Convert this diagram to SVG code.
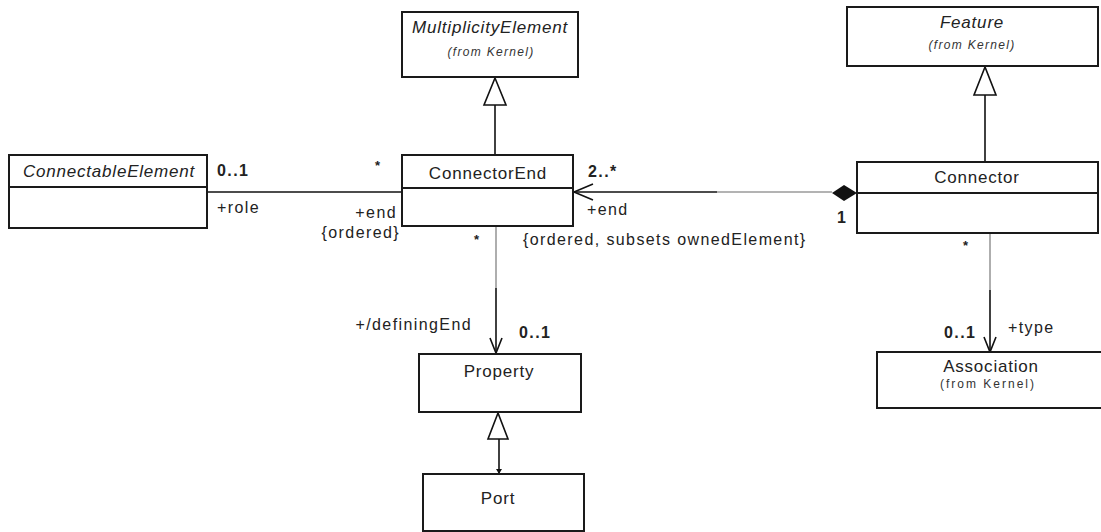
<svg xmlns="http://www.w3.org/2000/svg" width="1101" height="532" viewBox="0 0 1101 532">
  <style>
    .box { fill: #ffffff; stroke: #1a1a1a; stroke-width: 2; }
    .div { stroke: #1a1a1a; stroke-width: 2; }
    .name { font-family: "Liberation Sans", Arial, sans-serif; font-size: 17px; letter-spacing: 0.8px; fill: #222222; text-anchor: middle; }
    .abs { font-style: italic; }
    .from { font-family: "Liberation Sans", Arial, sans-serif; font-size: 12px; letter-spacing: 1.3px; fill: #333333; text-anchor: middle; }
    .lbl { font-family: "Liberation Sans", Arial, sans-serif; font-size: 16px; letter-spacing: 1.4px; fill: #222222; }
    .star { font-family: "Liberation Sans", Arial, sans-serif; font-size: 13px; font-weight: bold; fill: #222222; }
    .mult { font-family: "Liberation Sans", Arial, sans-serif; font-size: 16px; letter-spacing: 1.4px; font-weight: bold; fill: #222222; }
    .line { fill: none; stroke: #111111; stroke-width: 1.6; }
    .grey { fill: none; stroke: #9a9a9a; stroke-width: 1.6; }
    .hollow { fill: #ffffff; stroke: #111111; stroke-width: 1.6; }
    .open { fill: none; stroke: #111111; stroke-width: 1.6; }
  </style>

  <!-- connectors -->
  <g id="connectors">
    <!-- ConnectorEnd generalizes MultiplicityElement -->
    <line class="line" x1="495" y1="105" x2="495" y2="155"/>
    <polygon class="hollow" points="495,78 484,105 506,105"/>

    <!-- Connector generalizes Feature -->
    <line class="line" x1="985" y1="95" x2="985" y2="162"/>
    <polygon class="hollow" points="985,67 974,95 996,95"/>

    <!-- ConnectableElement role / ConnectorEnd end -->
    <line class="line" x1="207" y1="192" x2="402" y2="192"/>

    <!-- Connector owns ConnectorEnd (composition) -->
    <line class="line" x1="574" y1="192" x2="717" y2="192"/>
    <line class="grey" x1="717" y1="192" x2="832" y2="192"/>
    <polyline class="open" points="593,184 574,192 593,200"/>
    <polygon fill="#111111" points="832,193 844,185 857,193 844,201"/>

    <!-- ConnectorEnd definingEnd -> Property -->
    <line class="grey" x1="496" y1="227" x2="496" y2="288"/>
    <line class="line" x1="496" y1="288" x2="496" y2="353"/>
    <polyline class="open" points="490,338 496,353 502,338"/>

    <!-- Connector type -> Association -->
    <line class="grey" x1="990" y1="234" x2="990" y2="290"/>
    <line class="line" x1="990" y1="290" x2="990" y2="352"/>
    <polyline class="open" points="984,337 990,352 996,337"/>

    <!-- Port generalizes Property -->
    <line class="line" x1="499" y1="439" x2="499" y2="473"/>
    <polygon class="hollow" points="498,413 488,439 508,439"/>
    <polygon fill="#111111" points="496,469 502,469 499,474"/>

    <!-- association end labels -->
    <text class="mult" x="217" y="176">0..1</text>
    <text class="star" x="375" y="170">*</text>
    <text class="lbl" x="217" y="213">+role</text>
    <text class="lbl" x="397" y="218" text-anchor="end">+end</text>
    <text class="lbl" x="400" y="238" text-anchor="end">{ordered}</text>

    <text class="mult" x="588" y="177">2..*</text>
    <text class="lbl" x="587" y="215">+end</text>
    <text class="mult" x="837" y="223">1</text>
    <text class="lbl" x="523" y="245">{ordered, subsets ownedElement}</text>

    <text class="star" x="474" y="244">*</text>
    <text class="lbl" x="472" y="330" text-anchor="end">+/definingEnd</text>
    <text class="mult" x="519" y="338">0..1</text>

    <text class="star" x="963" y="250">*</text>
    <text class="mult" x="944" y="338">0..1</text>
    <text class="lbl" x="1008" y="333">+type</text>
  </g>

  <g id="MultiplicityElement">
    <rect class="box" x="402" y="12" width="176" height="65"/>
    <text class="name abs" x="490" y="33">MultiplicityElement</text>
    <text class="from abs" x="491" y="56">(from Kernel)</text>
  </g>

  <g id="Feature">
    <rect class="box" x="847" y="7" width="251" height="59"/>
    <text class="name abs" x="972" y="28">Feature</text>
    <text class="from abs" x="972" y="49">(from Kernel)</text>
  </g>

  <g id="ConnectableElement">
    <rect class="box" x="9" y="155" width="198" height="73"/>
    <line class="div" x1="9" y1="187" x2="207" y2="187"/>
    <text class="name abs" x="109" y="177">ConnectableElement</text>
  </g>

  <g id="ConnectorEnd">
    <rect class="box" x="402" y="155" width="171" height="71"/>
    <line class="div" x1="402" y1="188" x2="573" y2="188"/>
    <text class="name" x="488" y="179">ConnectorEnd</text>
  </g>

  <g id="Connector">
    <rect class="box" x="857" y="162" width="241" height="71"/>
    <line class="div" x1="857" y1="193" x2="1098" y2="193"/>
    <text class="name" x="977" y="183">Connector</text>
  </g>

  <g id="Property">
    <rect class="box" x="419" y="354" width="162" height="58"/>
    <text class="name" x="499" y="377">Property</text>
  </g>

  <g id="Association">
    <rect class="box" x="877" y="352" width="228" height="56"/>
    <text class="name" x="991" y="372">Association</text>
    <text class="from" x="988" y="388" style="letter-spacing:2px">(from Kernel)</text>
  </g>

  <g id="Port">
    <rect class="box" x="423" y="474" width="161" height="57"/>
    <text class="name" x="498" y="504">Port</text>
  </g>
</svg>
